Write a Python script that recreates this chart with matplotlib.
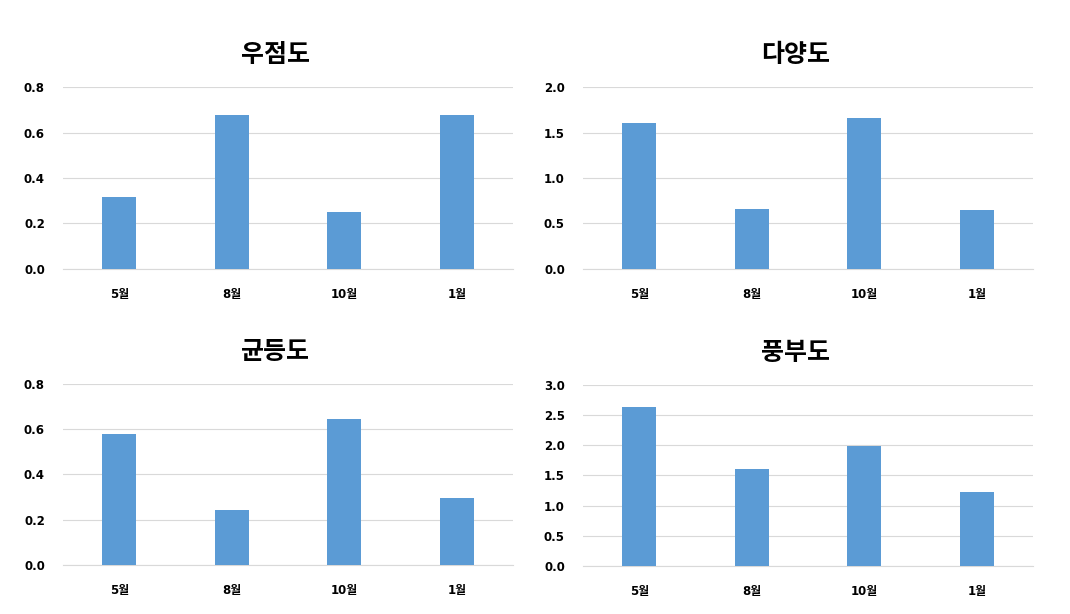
import matplotlib
matplotlib.use("Agg")
import matplotlib.pyplot as plt

plt.rcParams['font.family'] = ['DejaVu Sans', 'Noto Sans CJK KR']

months = ["5월", "8월", "10월", "1월"]
titles = ["우점도", "다양도", "균등도", "풍부도"]
dominance = [0.315, 0.678, 0.252, 0.678]
diversity = [1.60, 0.656, 1.656, 0.645]
evenness = [0.580, 0.245, 0.646, 0.297]
richness = [2.63, 1.60, 1.99, 1.22]
series = [dominance, diversity, evenness, richness]
ymaxes = [0.8, 2.0, 0.8, 3.0]
ysteps = [0.2, 0.5, 0.2, 0.5]

bar_color = "#5B9BD5"
grid_color = "#D9D9D9"

fig = plt.figure(figsize=(10.7, 6.14), dpi=100)
positions = [
    [0.0589, 0.5619, 0.4206, 0.2964],
    [0.5449, 0.5619, 0.4206, 0.2964],
    [0.0589, 0.0798, 0.4206, 0.2948],
    [0.5449, 0.0782, 0.4206, 0.2948],
]

for pos, title, vals, ymax, step in zip(positions, titles, series, ymaxes, ysteps):
    ax = fig.add_axes(pos)
    x = list(range(len(months)))
    ax.bar(x, vals, width=0.3, color=bar_color, zorder=3)
    ax.set_xlim(-0.5, 3.5)
    ax.set_ylim(0, ymax)
    n = int(round(ymax / step))
    ticks = [i * step for i in range(n + 1)]
    ax.set_yticks(ticks)
    ax.set_yticklabels([f"{t:.1f}" for t in ticks], fontsize=8.5, fontweight='bold')
    ax.set_xticks(x)
    ax.set_xticklabels(months, fontsize=8.5, fontweight='bold')
    ax.grid(axis='y', color=grid_color, linewidth=0.8, zorder=0)
    ax.set_axisbelow(True)
    for s in ['top', 'right', 'left']:
        ax.spines[s].set_visible(False)
    ax.spines['bottom'].set_color(grid_color)
    ax.tick_params(axis='both', length=0)
    ax.tick_params(axis='y', pad=13)
    ax.tick_params(axis='x', pad=14)
    ax.set_title(title, fontsize=18, fontweight='bold', pad=18, x=0.473,
                 family=['Noto Sans CJK KR', 'DejaVu Sans'])

fig.savefig("out.png", dpi=100)
